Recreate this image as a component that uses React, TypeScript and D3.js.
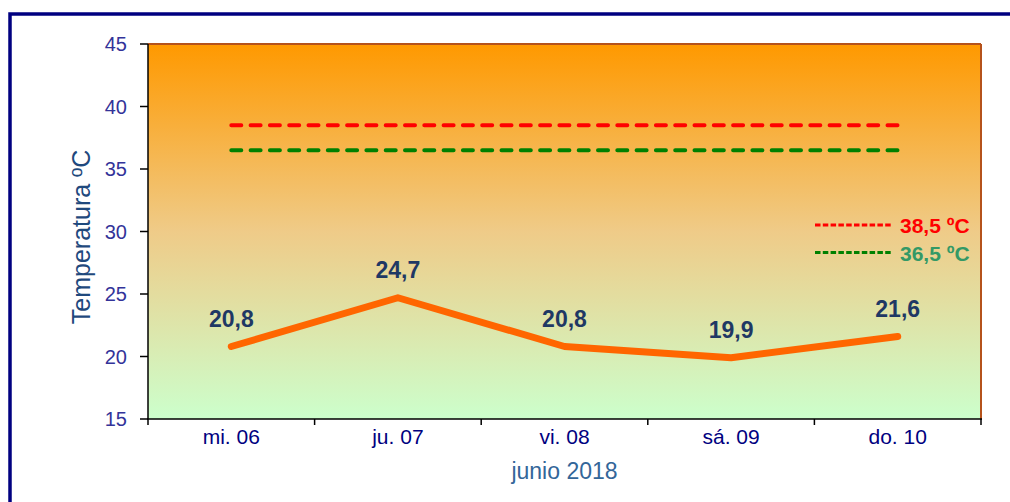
import React from "react";
import * as d3 from "d3";

const categories = ["mi. 06", "ju. 07", "vi. 08", "sá. 09", "do. 10"];
const temps = [20.8, 24.7, 20.8, 19.9, 21.6];
const labels = ["20,8", "24,7", "20,8", "19,9", "21,6"];
const yTicks = [15, 20, 25, 30, 35, 40, 45];
const thresholds = [
  { value: 38.5, label: "38,5 ºC", line: "#FF0000", text: "#FF0000" },
  { value: 36.5, label: "36,5 ºC", line: "#008000", text: "#339966" },
];

const W = 1010, H = 502;
const L = 148, T = 44, R = 981, B = 419;

export default function App() {
  const x = d3.scaleBand<string>().domain(categories).range([L, R]).padding(0);
  const y = d3.scaleLinear().domain([15, 45]).range([B, T]);
  const cx = (c: string) => (x(c) as number) + x.bandwidth() / 2;
  const line = d3
    .line<number>()
    .x((_, i) => cx(categories[i]))
    .y((d) => y(d));
  const font = "'Liberation Sans', Arial, sans-serif";
  const first = cx(categories[0]);
  const last = cx(categories[categories.length - 1]);
  return (
    <svg width={W} height={H} style={{ position: "absolute", left: 0, top: 0 }} fontFamily={font}>
      <defs>
        <linearGradient id="bg" x1="0" y1="0" x2="0" y2="1">
          <stop offset="0" stopColor="#FF9900" />
          <stop offset="0.5" stopColor="#EFCB88" />
          <stop offset="1" stopColor="#CCFFCC" />
        </linearGradient>
      </defs>
      <rect x={0} y={0} width={W} height={H} fill="#fff" />
      <rect x={10} y={14} width={1020} height={520} fill="none" stroke="#000080" strokeWidth={3.5} />
      <rect x={L} y={T} width={R - L} height={B - T} fill="url(#bg)" />
      <line x1={L} y1={T} x2={R} y2={T} stroke="#B5521B" strokeWidth={2} />
      <line x1={R} y1={T} x2={R} y2={B} stroke="#B5521B" strokeWidth={2} />
      <line x1={L} y1={T} x2={L} y2={B} stroke="#000" strokeWidth={1.5} />
      <line x1={L - 1} y1={B} x2={R + 1} y2={B} stroke="#000" strokeWidth={1.5} />
      {yTicks.map((t) => (
        <g key={t}>
          <line x1={L - 8} x2={L} y1={y(t)} y2={y(t)} stroke="#000" strokeWidth={1.5} />
          <text x={L - 21} y={y(t)} dy="0.36em" textAnchor="end" fontSize={20} fill="#333399">
            {t}
          </text>
        </g>
      ))}
      {categories.map((c, i) => (
        <line key={"t" + i} x1={x(c) as number} x2={x(c) as number} y1={B} y2={B + 6} stroke="#000" strokeWidth={1.5} />
      ))}
      <line x1={R} x2={R} y1={B} y2={B + 6} stroke="#000" strokeWidth={1.5} />
      {categories.map((c) => (
        <text key={c} x={cx(c)} y={B + 25} textAnchor="middle" fontSize={21} fill="#000080">
          {c}
        </text>
      ))}
      <text x={(L + R) / 2} y={479} textAnchor="middle" fontSize={23} fill="#336699">
        junio 2018
      </text>
      <text
        transform={`translate(90, 237) rotate(-90)`}
        textAnchor="middle"
        fontSize={25}
        fill="#1F497D"
      >
        Temperatura ºC
      </text>
      {thresholds.map((t) => (
        <line
          key={t.label}
          x1={first}
          x2={last}
          y1={y(t.value)}
          y2={y(t.value)}
          stroke={t.line}
          strokeWidth={4}
          strokeLinecap="round"
          strokeDasharray="10,9.3"
        />
      ))}
      <path d={line(temps) as string} fill="none" stroke="#FF6600" strokeWidth={7} strokeLinejoin="round" strokeLinecap="round" />
      {temps.map((v, i) => (
        <text key={i} x={cx(categories[i])} y={y(v) - 20} textAnchor="middle" fontSize={23} fontWeight="bold" fill="#1F3864">
          {labels[i]}
        </text>
      ))}
      {thresholds.map((t, i) => (
        <g key={"lg" + i}>
          <line x1={815} x2={893} y1={225 + i * 27.5} y2={225 + i * 27.5} stroke={t.line} strokeWidth={3} strokeDasharray="5.5,2.3" />
          <text x={900} y={233 + i * 27.5} fontSize={21} fontWeight="bold" fill={t.text}>
            {t.label}
          </text>
        </g>
      ))}
    </svg>
  );
}
